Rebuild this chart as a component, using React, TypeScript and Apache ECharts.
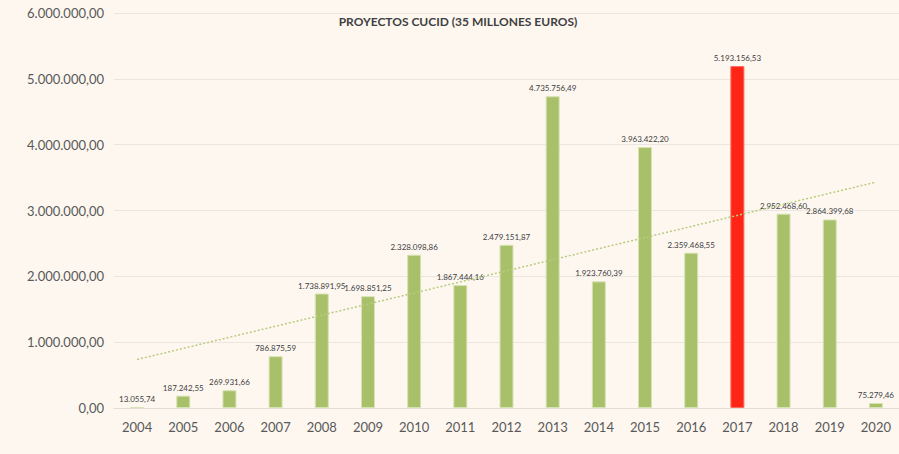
import React, { useEffect, useRef } from "react";
import * as echarts from "echarts";

const years = ["2004","2005","2006","2007","2008","2009","2010","2011","2012","2013","2014","2015","2016","2017","2018","2019","2020"];
const amounts = [13055.74,187242.55,269931.66,786875.59,1738891.95,1698851.25,2328098.86,1867444.16,2479151.87,4735756.49,1923760.39,3963422.2,2359468.55,5193156.53,2952468.6,2864399.68,75279.46];
const highlightYear = "2017";
// trend line endpoints
const trendStart = 737000;
const trendEnd = 3431000;
const titleText = "PROYECTOS CUCID (35 MILLONES EUROS)";

function fmt(v: number): string {
  const [i, d] = v.toFixed(2).split(".");
  return i.replace(/\B(?=(\d{3})+(?!\d))/g, ".") + "," + d;
}

export default function App() {
  const ref = useRef<HTMLDivElement>(null);
  useEffect(() => {
    const chart = echarts.init(ref.current!, null, { renderer: "svg" });
    chart.setOption({
      animation: false,
      backgroundColor: "#fdf7f0",
      textStyle: { fontFamily: "Lato" },
      title: {
        text: titleText,
        left: 453,
        top: 10,
        textAlign: "center",
        textStyle: { fontSize: 12, fontWeight: "bold", color: "#404040", fontFamily: "Lato" },
      },
      grid: { left: 114, right: -2, top: 13, bottom: 46 },
      xAxis: {
        type: "category",
        data: years,
        axisLine: { show: true, lineStyle: { color: "#e2ddd6" } },
        axisTick: { show: false },
        axisLabel: { color: "#595959", fontSize: 13, margin: 12 },
      },
      yAxis: {
        type: "value",
        min: 0,
        max: 6000000,
        interval: 1000000,
        axisLine: { show: false },
        axisTick: { show: false },
        splitLine: { lineStyle: { color: "#ebe6df", width: 1 } },
        axisLabel: { color: "#595959", fontSize: 13, margin: 10, formatter: (v: number) => fmt(v) },
      },
      series: [
        {
          type: "bar",
          data: amounts.map((v, i) => ({
            value: v,
            itemStyle: years[i] === highlightYear
              ? { color: "#ff2516", borderColor: "#ff6a5c", borderWidth: 1 }
              : { color: "#a9c06a", borderColor: "#d8e3b4", borderWidth: 1 },
          })),
          barWidth: 14,
          label: {
            show: true,
            position: "top",
            distance: 4,
            fontSize: 8,
            color: "#404040",
            formatter: (p: any) => fmt(p.value),
          },
          markLine: {
            silent: true,
            symbol: ["none", "none"],
            label: { show: false },
            lineStyle: { type: [2, 2], color: "#b8cc7e", width: 1.5 },
            data: [[{ coord: [years[0], trendStart] }, { coord: [years[years.length - 1], trendEnd] }]],
          },
        },
      ],
    });
    return () => chart.dispose();
  }, []);
  return <div ref={ref} style={{ position: "fixed", left: 0, top: 0, width: 899, height: 454 }} />;
}
